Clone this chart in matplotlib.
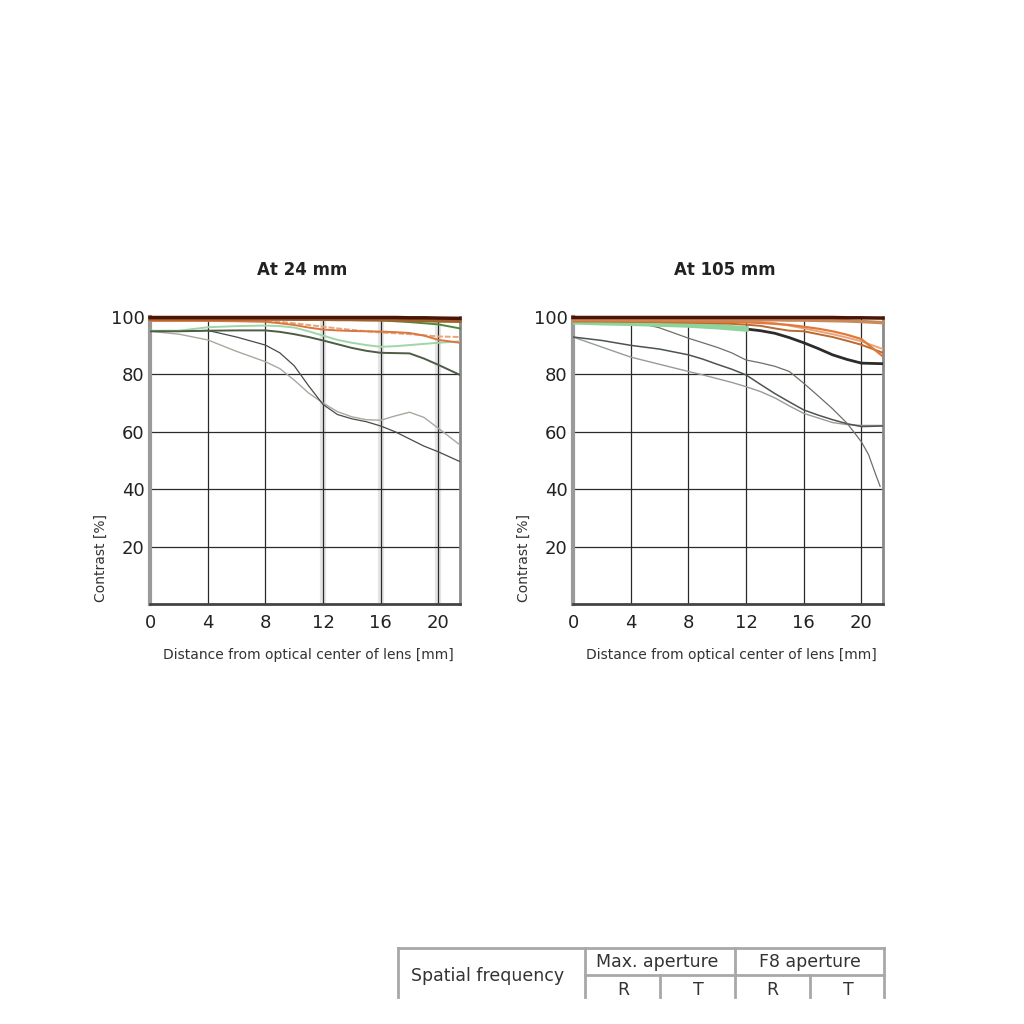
import matplotlib.pyplot as plt
from matplotlib.lines import Line2D

# distance from optical centre [mm]
pos = [0, 2, 4, 6, 8, 9, 10, 11, 12, 13, 14, 15, 16, 17, 18, 19, 20, 21.5]
x_ticks = [0, 4, 8, 12, 16, 20]
y_ticks = [20, 40, 60, 80, 100]

# At 24 mm
wide_f8_10_r = [99.8, 99.8, 99.8, 99.8, 99.8, 99.8, 99.8, 99.8, 99.8, 99.8, 99.8, 99.8, 99.8, 99.8, 99.7, 99.7, 99.6, 99.5]
wide_f8_10_t = [99.3, 99.3, 99.3, 99.3, 99.3, 99.3, 99.2, 99.2, 99.2, 99.1, 99.1, 99.0, 99.0, 98.9, 98.8, 98.7, 98.6, 98.5]
wide_f8_30_r = [98.6, 98.6, 98.6, 98.5, 98.3, 97.8, 97.2, 96.3, 95.6, 95.3, 95.1, 95.0, 94.9, 94.7, 94.4, 93.5, 92.0, 91.0]
wide_f8_30_t = [98.8, 98.8, 98.8, 98.7, 98.6, 98.3, 97.8, 97.2, 96.6, 96.0, 95.5, 95.0, 94.6, 94.3, 94.0, 93.6, 93.2, 93.0]
wide_max_10_r = [95.2, 95.2, 96.4, 96.8, 97.0, 96.8, 96.3, 95.0, 93.5, 92.0, 91.0, 90.2, 89.6, 89.8, 90.2, 90.6, 91.0, 91.5]
wide_max_10_t = [95.0, 95.0, 95.2, 95.3, 95.3, 94.8, 94.0, 93.0, 91.8, 90.5, 89.2, 88.2, 87.5, 87.4, 87.3, 85.5, 83.3, 79.8]
wide_edge_10 = [99.1, 99.1, 99.1, 99.1, 99.1, 99.1, 99.1, 99.0, 99.0, 99.0, 98.9, 98.9, 98.8, 98.5, 98.2, 97.8, 97.4, 96.0]
wide_max_30_r = [95.0, 95.0, 95.3, 93.0, 90.2, 87.5, 83.0, 76.0, 69.5, 66.0, 64.5, 63.5, 62.0, 60.0, 57.5, 55.0, 53.0, 49.6]
wide_max_30_t = [95.0, 94.0, 92.0, 88.0, 84.4, 82.0, 78.0, 73.5, 70.0, 67.0, 65.2, 64.2, 64.0, 65.5, 66.8, 65.0, 61.2, 55.4]

# At 105 mm
tele_f8_10_r = [99.8, 99.8, 99.8, 99.8, 99.8, 99.8, 99.8, 99.8, 99.8, 99.8, 99.8, 99.8, 99.8, 99.8, 99.8, 99.7, 99.7, 99.6]
tele_f8_10_t = [99.2, 99.2, 99.2, 99.2, 99.1, 99.1, 99.1, 99.1, 99.0, 99.0, 99.0, 98.9, 98.9, 98.8, 98.7, 98.6, 98.4, 98.0]
tele_f8_30_r = [98.7, 98.7, 98.6, 98.5, 98.4, 98.3, 98.3, 98.2, 98.1, 97.9, 97.6, 97.2, 96.6, 95.9, 95.0, 93.8, 92.3, 86.2]
tele_f8_30_t = [98.4, 98.4, 98.3, 98.2, 98.0, 97.9, 97.8, 97.6, 97.3, 96.9, 96.0, 95.2, 95.0, 94.0, 93.0, 91.7, 90.3, 87.5]
tele_f8_30_x = [98.9, 98.9, 98.8, 98.8, 98.7, 98.6, 98.6, 98.5, 98.4, 98.2, 97.8, 97.0, 96.0, 95.0, 94.0, 92.8, 91.5, 88.8]
tele_max_10_t = [98.3, 98.0, 97.8, 97.5, 97.2, 96.9, 96.6, 96.2, 95.8, 95.2, 94.3, 92.8, 91.0, 89.0, 86.8, 85.2, 83.9, 83.7]
tele_max_30_r = [93.0, 91.8, 90.1, 88.8, 86.8, 85.3, 83.5, 81.8, 79.8, 76.5, 73.3, 70.4, 67.6, 65.8, 64.2, 62.8, 61.8, 62.0]
tele_max_30_t = [93.0, 89.5, 86.0, 83.5, 81.0, 79.8, 78.5, 77.2, 75.7, 74.0, 71.8, 69.0, 66.4, 64.8, 63.2, 62.5, 62.2, 62.2]
green_pos = [0, 2, 4, 6, 8, 9, 10, 11, 12]
tele_max_10_r = [98.3, 98.0, 97.8, 97.5, 97.2, 96.9, 96.6, 96.2, 95.8]
drop_pos = [0, 2, 4, 5, 6, 7, 8, 9, 10, 11, 12, 13, 14, 15, 16, 17, 18, 19, 20, 20.5, 21, 21.3]
tele_drop = [98.4, 98.2, 98.0, 97.4, 96.2, 94.4, 92.6, 91.0, 89.4, 87.5, 85.0, 84.0, 82.8, 81.0, 76.9,
             72.5, 68.0, 63.0, 56.5, 52.0, 45.0, 41.0]

titles = ["At 24 mm", "At 105 mm"]


def style_axes(ax, title, bands):
    ax.set_xlim(0, 21.5)
    ax.set_ylim(0, 100)
    for b in bands:
        ax.axvline(b, color="#e4e4e4", lw=4.5, zorder=0)
    for t in x_ticks[1:]:
        ax.axvline(t, color="#2a2a2a", lw=0.9, zorder=1)
    for t in y_ticks[:-1]:
        ax.axhline(t, color="#2a2a2a", lw=0.9, zorder=1)
    ax.set_xticks(x_ticks)
    ax.set_yticks(y_ticks)
    ax.tick_params(length=0, labelsize=13, pad=7, colors="#222222")
    ax.tick_params(axis="y", pad=4)
    ax.spines["left"].set_color("#9a9a9a")
    ax.spines["left"].set_linewidth(3)
    ax.spines["right"].set_color("#8a8a8a")
    ax.spines["right"].set_linewidth(2)
    ax.spines["bottom"].set_color("#444444")
    ax.spines["bottom"].set_linewidth(2)
    ax.spines["top"].set_visible(False)
    ax.text(0.49, 1.165, title, transform=ax.transAxes, ha="center", va="center",
            fontsize=12, fontweight="bold", color="#222222")
    ax.text(-0.16, 0.16, "Contrast [%]", transform=ax.transAxes, rotation=90,
            ha="center", va="center", fontsize=10, color="#333333")
    ax.text(0.51, -0.178, "Distance from optical center of lens [mm]", transform=ax.transAxes,
            ha="center", va="center", fontsize=10, color="#333333")


fig = plt.figure(figsize=(10.24, 10.24), dpi=100)
ax1 = fig.add_axes([0.1465, 0.4102, 0.3027, 0.2803])
ax2 = fig.add_axes([0.5596, 0.4102, 0.3027, 0.2803])

style_axes(ax1, titles[0], [12, 16, 20])
ax1.plot(pos, wide_max_30_t, color="#a8a8a0", lw=1.0, zorder=3)
ax1.plot(pos, wide_max_30_r, color="#4a4a4a", lw=0.9, zorder=3)
ax1.plot(pos, wide_max_10_r, color="#9fd6a8", lw=1.4, zorder=3)
ax1.plot(pos, wide_max_10_t, color="#4d5c44", lw=1.4, zorder=3)
ax1.plot(pos, wide_edge_10, color="#4f8a3a", lw=1.4, zorder=3, clip_on=False)
ax1.plot(pos, wide_f8_30_t, color="#e8a47a", lw=1.4, ls=(0, (3, 1)), zorder=4)
ax1.plot(pos, wide_f8_30_r, color="#d9773f", lw=1.4, zorder=4)
ax1.plot(pos, wide_f8_10_t, color="#a0622e", lw=2.5, zorder=5, clip_on=False)
ax1.plot(pos, wide_f8_10_r, color="#4a1406", lw=2.5, zorder=6, clip_on=False)

style_axes(ax2, titles[1], [])
ax2.plot(pos, tele_max_30_t, color="#9a9a96", lw=1.0, zorder=3)
ax2.plot(pos, tele_max_30_r, color="#4c5450", lw=1.1, zorder=3)
ax2.plot(drop_pos, tele_drop, color="#6f6f68", lw=0.9, zorder=3)
ax2.plot(pos, tele_max_10_t, color="#2c2c2c", lw=2.0, zorder=4)
ax2.plot(green_pos, tele_max_10_r, color="#8fd39c", lw=4, zorder=4)
ax2.plot(pos, tele_f8_30_x, color="#eda27a", lw=1.4, zorder=5)
ax2.plot(pos, tele_f8_30_t, color="#b86a32", lw=1.4, zorder=5)
ax2.plot(pos, tele_f8_30_r, color="#df7a3c", lw=1.6, zorder=5)
ax2.plot(pos, tele_f8_10_t, color="#c88a5a", lw=2.5, zorder=6, clip_on=False)
ax2.plot(pos, tele_f8_10_r, color="#4a1406", lw=2.5, zorder=7, clip_on=False)

# table header at the bottom (cut off by the image edge)
W, H = 1024.0, 1024.0
grey = "#a8a8a8"


def hline(x0, x1, y):
    fig.add_artist(Line2D([x0 / W, x1 / W], [1 - y / H, 1 - y / H], color=grey, lw=2))


def vline(x, y0, y1):
    fig.add_artist(Line2D([x / W, x / W], [1 - y0 / H, 1 - y1 / H], color=grey, lw=2))


hline(398, 884, 948)
hline(585, 884, 975)
for xv in [398, 585, 735, 884]:
    vline(xv, 948, 997)
for xv in [660, 810]:
    vline(xv, 975, 997)

cells = [("Spatial frequency", 488, 976), ("Max. aperture", 657, 962), ("F8 aperture", 810, 962),
         ("R", 623, 990), ("T", 698, 990), ("R", 772, 990), ("T", 848, 990)]
for label, cx, cy in cells:
    fig.text(cx / W, 1 - cy / H, label, ha="center", va="center", fontsize=12.5, color="#333333")

fig.savefig("out.png", dpi=100)
